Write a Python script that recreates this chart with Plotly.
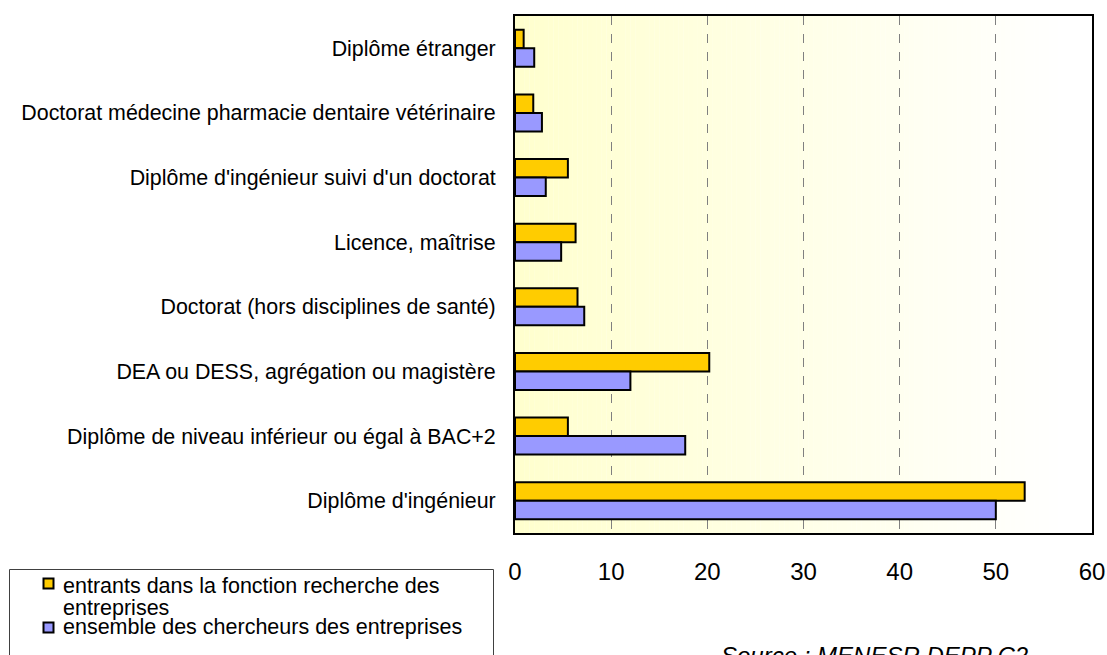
import plotly.graph_objects as go

# categories, top to bottom as they appear
categories = [
    "Diplôme étranger",
    "Doctorat médecine pharmacie dentaire vétérinaire",
    "Diplôme d'ingénieur suivi d'un doctorat",
    "Licence, maîtrise",
    "Doctorat (hors disciplines de santé)",
    "DEA ou DESS, agrégation ou magistère",
    "Diplôme de niveau inférieur ou égal à BAC+2",
    "Diplôme d'ingénieur",
]
entrants = [0.9, 1.9, 5.5, 6.3, 6.5, 20.2, 5.5, 53.0]
ensemble = [2.0, 2.8, 3.2, 4.8, 7.2, 12.0, 17.7, 50.0]
x_ticks = [0, 10, 20, 30, 40, 50, 60]
series_names = ["entrants dans la fonction recherche des entreprises",
                "ensemble des chercheurs des entreprises"]
series_colors = ["#FFCC00", "#9999FF"]

FONT = "Liberation Sans, Arial, sans-serif"
W, H = 1107, 655

#-------------------------------------------------------------------------------
#   plot area in pixels: x 515..1092, y 16..533
#-------------------------------------------------------------------------------
L, R, T, B = 515, 1092, 16, 533
def px(x):
    return (x - L) / (R - L)
def py(y):
    return (B - y) / (B - T)

fig = go.Figure()
for name, vals, col in zip(series_names, [entrants, ensemble], series_colors):
    fig.add_trace(go.Bar(
        y=categories, x=vals, orientation="h", name=name,
        marker=dict(color=col, line=dict(color="black", width=2)),
        showlegend=False,
    ))

# background: light yellow fading to white, drawn as thin stripes
shapes = []
n = 120
for i in range(n):
    t = min(1.0, i / (n * 0.95))
    b = int(round(206 + (255 - 206) * t))
    shapes.append(dict(
        type="rect", xref="x", yref="y domain",
        x0=60 * i / n, x1=60 * (i + 1) / n + 0.02, y0=0, y1=1,
        fillcolor=f"rgb(255,255,{b})", line=dict(width=0), layer="below",
    ))

# legend frame (runs off the bottom of the image) + swatches
shapes.append(dict(
    type="rect", xref="paper", yref="paper",
    x0=px(9.5), x1=px(493.5), y0=py(569.5), y1=py(700),
    line=dict(color="#404040", width=1), fillcolor="rgba(0,0,0,0)",
))
for col, ytop in zip(series_colors, [578.5, 622.5]):
    shapes.append(dict(
        type="rect", xref="paper", yref="paper",
        x0=px(43.5), x1=px(53.5), y0=py(ytop), y1=py(ytop + 10),
        line=dict(color="black", width=2), fillcolor=col,
    ))

annotations = []
leg_lines = ["entrants dans la fonction recherche des", "entreprises",
             "ensemble des chercheurs des entreprises"]
for txt, yc in zip(leg_lines, [585.5, 607.5, 627]):
    annotations.append(dict(
        text=txt, xref="paper", yref="paper", x=px(61), y=py(yc),
        xanchor="left", yanchor="middle", showarrow=False,
        font=dict(size=21.5, family=FONT, color="black"),
    ))
annotations.append(dict(
    text="<i>Source : MENESR DEPP C2</i>", xref="paper", yref="paper",
    x=px(719), y=py(655), xanchor="left", yanchor="middle",
    showarrow=False, font=dict(size=24, family=FONT, color="black"),
))

fig.update_layout(
    width=W, height=H,
    margin=dict(l=L, r=W - R, t=T, b=H - B),
    paper_bgcolor="white", plot_bgcolor="white",
    font=dict(family=FONT, size=16, color="black"),
    barmode="group", bargap=0.427, bargroupgap=0,
    showlegend=False,
    shapes=shapes, annotations=annotations,
    xaxis=dict(
        range=[0, 60], tickvals=x_ticks, ticktext=[str(v) for v in x_ticks],
        showgrid=True, gridcolor="#808080", griddash="dash", gridwidth=1,
        showline=True, linecolor="black", linewidth=2, mirror=True,
        ticks="", zeroline=False, tickfont=dict(size=24),
        ticklabelstandoff=16, automargin=False,
    ),
    yaxis=dict(
        autorange="reversed", showgrid=False,
        showline=True, linecolor="black", linewidth=2, mirror=True,
        ticks="", tickfont=dict(size=21.4), ticklabelstandoff=13,
        automargin=False,
    ),
)

# drop the page's default 8px body margin so the figure sits at the corner
fig.write_html("out.html", config={"displayModeBar": False},
               post_script="document.body.style.margin='0';")
